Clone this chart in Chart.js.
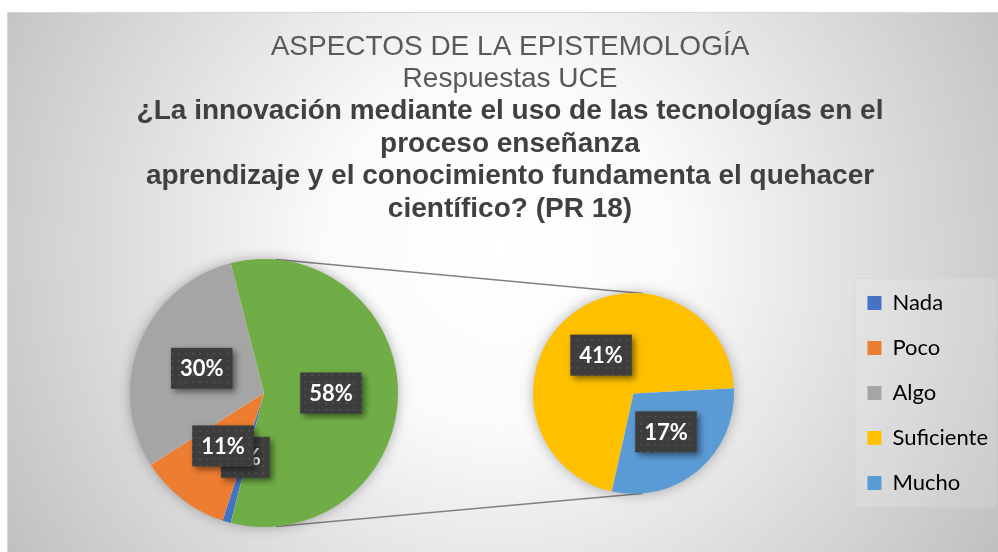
<!DOCTYPE html>
<html><head><meta charset="utf-8">
<script src="https://cdn.jsdelivr.net/npm/chart.js@4.4.1/dist/chart.umd.min.js"></script>
<style>
html,body{margin:0;padding:0;background:#fff;}
#wrap{position:relative;width:998px;height:552px;overflow:hidden;}
canvas{position:absolute;left:0;top:0;}
#cB{pointer-events:none;}
</style></head><body>
<div id="wrap"><canvas id="cA" width="998" height="552"></canvas><canvas id="cB" width="998" height="552"></canvas></div>
<script>
// ---- data ----
const mainLabels = ['Nada', 'Poco', 'Algo'];
const mainValues = [1, 11, 30];
const subLabels = ['Suficiente', 'Mucho'];
const subValues = [41, 17];
const otherLabel = 'Otros';
const titleLines = ['ASPECTOS DE LA EPISTEMOLOGÍA', 'Respuestas UCE'];
const subtitleLines = [
  '¿La innovación mediante el uso de las tecnologías en el',
  'proceso enseñanza',
  'aprendizaje y el conocimiento fundamenta el quehacer',
  'científico? (PR 18)'
];

// ---- styles ----
const mainColors = ['#4472C4', '#ED7D31', '#A5A5A5'];
const otherColor = '#70AD47';
const subColors = ['#FFC000', '#5B9BD5'];

const otherValue = subValues.reduce((a, b) => a + b, 0);
const total = mainValues.reduce((a, b) => a + b, 0) + otherValue;
const pct = v => Math.round(v / total * 100) + '%';

const MAIN_BOX = {left: 130, top: 259, right: 398, bottom: 527};
const SUB_BOX = {left: 533, top: 293, right: 734, bottom: 494};
const mainRotation = 90 + otherValue / total * 180;
const subRotation = 192.5;

function setArea(box) {
  return {
    id: 'area',
    afterLayout(chart) {
      chart.chartArea = {left: box.left, top: box.top, right: box.right, bottom: box.bottom,
        width: box.right - box.left, height: box.bottom - box.top};
    }
  };
}

let pattern = null;
function getPattern(ctx) {
  if (pattern) return pattern;
  const c = document.createElement('canvas'); c.width = 7; c.height = 7;
  const g = c.getContext('2d');
  g.fillStyle = '#3d3d3d'; g.fillRect(0, 0, 7, 7);
  g.fillStyle = '#4c4c4c'; g.fillRect(3, 3, 2, 2);
  pattern = ctx.createPattern(c, 'repeat');
  return pattern;
}

const labelPlugin = {
  id: 'boxLabels',
  afterDatasetsDraw(chart) {
    const ctx = chart.ctx;
    const meta = chart.getDatasetMeta(0);
    const data = chart.data.datasets[0].data;
    ctx.save();
    ctx.font = 'bold 22px Lato';
    meta.data.forEach((el, i) => {
      const p = el.tooltipPosition();
      const t = pct(data[i]);
      const w = ctx.measureText(t).width + 18, h = 41;
      ctx.save();
      ctx.shadowColor = 'rgba(0,0,0,0.5)';
      ctx.shadowBlur = 6; ctx.shadowOffsetX = 3; ctx.shadowOffsetY = 3;
      ctx.fillStyle = getPattern(ctx);
      ctx.fillRect(p.x - w / 2, p.y - h / 2, w, h);
      ctx.restore();
      ctx.fillStyle = '#ffffff';
      ctx.textAlign = 'center'; ctx.textBaseline = 'middle';
      ctx.fillText(t, p.x, p.y + 1);
    });
    ctx.restore();
  }
};

const pieShadow = {
  id: 'pieShadow',
  beforeDatasetsDraw(chart) {
    const el = chart.getDatasetMeta(0).data[0];
    if (!el) return;
    const ctx = chart.ctx;
    ctx.save();
    ctx.shadowColor = 'rgba(0,0,0,0.35)';
    ctx.shadowBlur = 14;
    ctx.fillStyle = '#ffffff';
    ctx.beginPath(); ctx.arc(el.x, el.y, el.outerRadius - 1, 0, Math.PI * 2); ctx.fill();
    ctx.restore();
  }
};

const background = {
  id: 'bg',
  beforeDraw(chart) {
    const ctx = chart.ctx;
    ctx.save();
    ctx.fillStyle = '#ffffff'; ctx.fillRect(0, 0, chart.width, chart.height);
    const g = ctx.createRadialGradient(500, 250, 0, 500, 250, 600);
    g.addColorStop(0, '#ffffff');
    g.addColorStop(0.3, '#fafafa');
    g.addColorStop(1, '#bdbdbd');
    ctx.fillStyle = g;
    ctx.fillRect(7, 12, chart.width - 7, chart.height - 12);
    ctx.strokeStyle = '#d6d6d6'; ctx.lineWidth = 1;
    ctx.strokeRect(7.5, 12.5, chart.width, chart.height);
    ctx.restore();
  }
};

let chartB = null;
const connectors = {
  id: 'connectors',
  beforeDatasetsDraw(chart) {
    if (!chartB) return;
    const a = chart.getDatasetMeta(0).data[0];
    const b = chartB.getDatasetMeta(0).data[0];
    if (!a || !b) return;
    const dx = b.x - a.x, dy = b.y - a.y, D = Math.hypot(dx, dy);
    const th = Math.atan2(dy, dx), al = Math.acos((a.outerRadius - b.outerRadius) / D);
    const ctx = chart.ctx;
    ctx.save();
    ctx.strokeStyle = '#808080'; ctx.lineWidth = 1.5;
    [-1, 1].forEach(s => {
      const nx = Math.cos(th + s * al), ny = Math.sin(th + s * al);
      ctx.beginPath();
      ctx.moveTo(a.x + a.outerRadius * nx, a.y + a.outerRadius * ny);
      ctx.lineTo(b.x + b.outerRadius * nx, b.y + b.outerRadius * ny);
      ctx.stroke();
    });
    ctx.restore();
  }
};

const legendItems = mainLabels.map((t, i) => ({text: t, fillStyle: mainColors[i], strokeStyle: mainColors[i], lineWidth: 0, hidden: false, index: i}))
  .concat(subLabels.map((t, i) => ({text: t, fillStyle: subColors[i], strokeStyle: subColors[i], lineWidth: 0, hidden: false, index: mainLabels.length + i})));

const legendBg = {
  id: 'legendBg',
  beforeDraw(chart) {
    const lg = chart.legend;
    if (!lg || !lg.legendHitBoxes || !lg.legendHitBoxes.length) return;
    const hb = lg.legendHitBoxes;
    const top = hb[0].top - 14, bottom = hb[hb.length - 1].top + hb[hb.length - 1].height + 13;
    const left = lg.left + 10;
    const ctx = chart.ctx;
    ctx.save();
    ctx.fillStyle = 'rgba(255,255,255,0.14)';
    ctx.fillRect(left, top, chart.width - left - 1, bottom - top);
    ctx.strokeStyle = 'rgba(205,205,205,0.5)';
    ctx.strokeRect(left + 0.5, top + 0.5, chart.width - left - 2, bottom - top);
    ctx.restore();
  }
};

chartB = new Chart(document.getElementById('cB'), {
  type: 'pie',
  data: {labels: subLabels, datasets: [{data: subValues, backgroundColor: subColors, borderWidth: 0, hoverOffset: 0}]},
  options: {
    responsive: false, animation: false, events: [],
    rotation: subRotation,
    layout: {padding: {top: 234, bottom: 0, left: 0, right: 0}},
    plugins: {
      tooltip: {enabled: false},
      legend: {
        display: true, position: 'right', align: 'center',
        labels: {boxWidth: 14, boxHeight: 14, padding: 23, color: '#595959',
          font: {family: 'Lato', size: 22}, generateLabels: () => legendItems}
      }
    }
  },
  plugins: [legendBg, setArea(SUB_BOX), pieShadow, labelPlugin]
});

new Chart(document.getElementById('cA'), {
  type: 'pie',
  data: {labels: mainLabels.concat([otherLabel]),
    datasets: [{data: mainValues.concat([otherValue]), backgroundColor: mainColors.concat([otherColor]), borderWidth: 0, hoverOffset: 0}]},
  options: {
    responsive: false, animation: false, events: [],
    rotation: mainRotation,
    layout: {padding: {left: 22, top: 0, right: 0, bottom: 0}},
    plugins: {
      legend: {display: false},
      tooltip: {enabled: false},
      title: {display: true, text: titleLines, color: '#595959',
        font: {family: 'Liberation Sans', size: 28, weight: 'normal', lineHeight: 32 / 28},
        padding: {top: 31.5, bottom: 0}},
      subtitle: {display: true, text: subtitleLines, color: '#404040',
        font: {family: 'Liberation Sans', size: 28, weight: 'bold', lineHeight: 32.5 / 28},
        padding: {top: 0, bottom: 10}}
    }
  },
  plugins: [background, setArea(MAIN_BOX), connectors, pieShadow, labelPlugin]
});
</script>
</body></html>
